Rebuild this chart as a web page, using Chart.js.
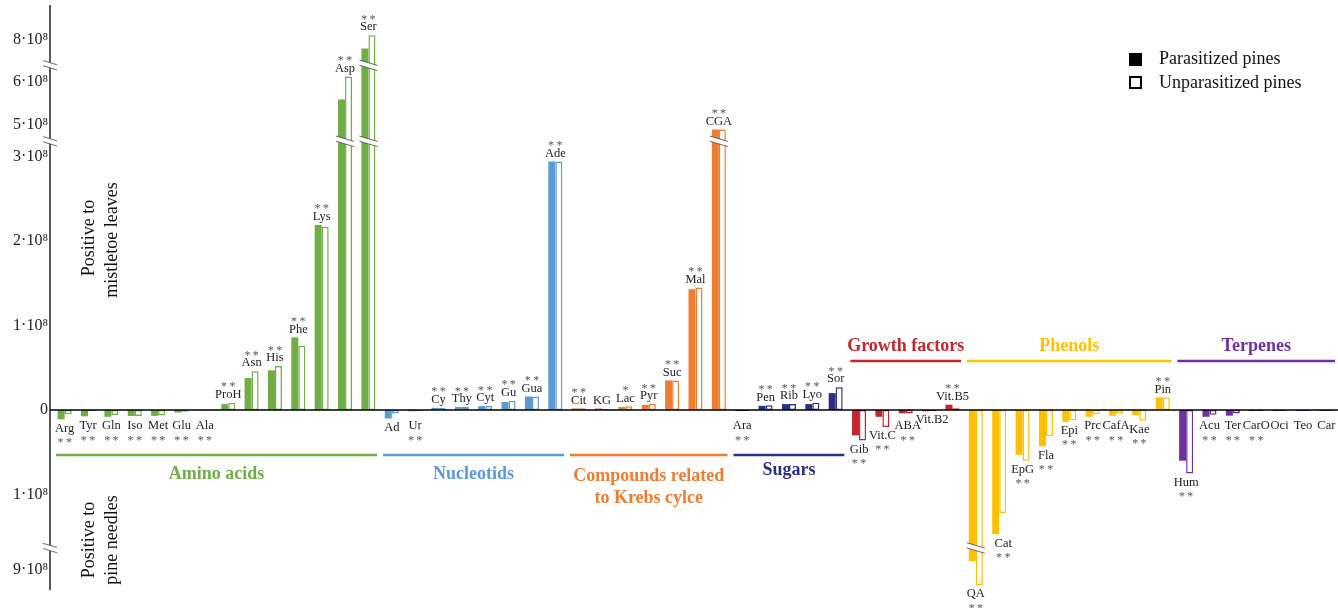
<!DOCTYPE html>
<html>
<head>
<meta charset="utf-8">
<script src="https://cdn.jsdelivr.net/npm/chart.js@4.4.1/dist/chart.umd.min.js"></script>
<style>
  html, body { margin: 0; padding: 0; background: #fff; }
  #wrap { width: 1338px; height: 608px; position: relative; }
</style>
</head>
<body>
<div id="wrap"><canvas id="chart" width="1338" height="608"></canvas></div>
<script>
// --- DATA (units of 10^8; negative = positive to pine needles) ---
const categories = [
  "Arg", "Tyr", "Gln", "Iso", "Met", "Glu", "Ala", "ProH", "Asn", "His", "Phe", "Lys", "Asp", "Ser",
  "Ad", "Ur", "Cy", "Thy", "Cyt", "Gu", "Gua", "Ade",
  "Cit", "KG", "Lac", "Pyr", "Suc", "Mal", "CGA",
  "Ara", "Pen", "Rib", "Lyo", "Sor",
  "Gib", "Vit.C", "ABA", "Vit.B2", "Vit.B5",
  "QA", "Cat", "EpG", "Fla", "Epi", "Prc", "CafA", "Kae", "Pin",
  "Hum", "Acu", "Ter", "CarO", "Oci", "Teo", "Car"
];
const parasitized = [
  -0.11, -0.075, -0.08, -0.07, -0.07, -0.03, -0.006, 0.07, 0.38, 0.47, 0.86, 2.19, 5.6, 7.8,
  -0.1, -0.015, 0.025, 0.035, 0.047, 0.095, 0.16, 2.94,
  0.02, 0.02, 0.035, 0.06, 0.35, 1.43, 4.9,
  -0.012, 0.05, 0.07, 0.07, 0.2,
  -0.3, -0.08, -0.04, -0.015, 0.063,
  -8.8, -1.47, -0.53, -0.43, -0.14, -0.08, -0.067, -0.06, 0.15,
  -0.6, -0.08, -0.067, -0.012, -0.012, -0.012, -0.012
];
const unparasitized = [
  -0.05, -0.015, -0.06, -0.07, -0.065, -0.02, -0.006, 0.086, 0.46, 0.52, 0.76, 2.17, 6.13, 8.11,
  -0.04, -0.015, 0.025, 0.035, 0.047, 0.11, 0.16, 2.94,
  0.02, 0.012, 0.045, 0.07, 0.35, 1.45, 4.9,
  -0.012, 0.055, 0.07, 0.086, 0.27,
  -0.36, -0.2, -0.04, -0.015, 0.02,
  -9.35, -1.22, -0.6, -0.31, -0.12, -0.05, -0.04, -0.127, 0.15,
  -0.75, -0.055, -0.04, -0.012, -0.012, -0.012, -0.012
];
const stars = [
  "**", "**", "**", "**", "**", "**", "**", "**", "**", "**", "**", "**", "**", "**",
  "", "**", "**", "**", "**", "**", "**", "**",
  "**", "", "*", "**", "**", "**", "**",
  "**", "**", "**", "**", "**",
  "**", "**", "**", "", "**",
  "**", "**", "**", "**", "**", "**", "**", "**", "**",
  "**", "**", "**", "**", "", "", ""
];
const groupNames = ["Amino acids", "Nucleotids", ["Compounds related", "to Krebs cylce"], "Sugars",
  "Growth factors", "Phenols", "Terpenes"];
const groupSizes = [14, 8, 7, 5, 5, 9, 7];
const groupColors = ["#70ad47", "#5b9bd5", "#ed7d31", "#2b2f85", "#c1272d", "#ffc000", "#7030a0"];
const yTickValues = [8, 6, 5, 3, 2, 1, 0, -1, -9];

// --- BROKEN AXIS ---
// maps a value (10^8) to the drawn axis position; segments meet at the break marks
const BREAK_LOW = 3.18, BREAK_HIGH = 4.08, BREAK_NEG = -1.633;
function toAxis(v) {
  if (v > 7.3) return 4.38 + (v - 8) * 0.51;
  if (v > 4.4) return 3.37 + (v - 5) * 0.51;
  if (v < -1.7) return -1.893 + (v + 9) * 0.51;
  return v;
}

// per-category colours from the group sizes
const barColors = [];
groupSizes.forEach((n, g) => { for (let k = 0; k < n; k++) barColors.push(groupColors[g]); });

// small nudges for crowded labels
const labelTweaks = { "Vit.B2": { dx: 3, dy: -6 }, "ABA": { dx: 2, dy: 0 }, "Cat": { dx: 4, dy: 0 } };

const SERIF = "'Liberation Serif', 'Times New Roman', serif";

function drawBreak(ctx, x1, x2, y) {
  const dy = (x2 - x1) * 0.3;
  const gap = 2.6;
  ctx.save();
  ctx.fillStyle = "#fff";
  ctx.beginPath();
  ctx.moveTo(x1, y - dy / 2 - gap);
  ctx.lineTo(x2, y + dy / 2 - gap);
  ctx.lineTo(x2, y + dy / 2 + gap);
  ctx.lineTo(x1, y - dy / 2 + gap);
  ctx.closePath();
  ctx.fill();
  ctx.strokeStyle = "#444";
  ctx.lineWidth = 0.8;
  ctx.beginPath();
  ctx.moveTo(x1, y - dy / 2 - gap); ctx.lineTo(x2, y + dy / 2 - gap);
  ctx.moveTo(x1, y - dy / 2 + gap); ctx.lineTo(x2, y + dy / 2 + gap);
  ctx.stroke();
  ctx.restore();
}

const decor = {
  id: "decor",
  afterDatasetsDraw(chart) {
    const ctx = chart.ctx;
    const area = chart.chartArea;
    const xs = chart.scales.x, ys = chart.scales.y;
    const m0 = chart.getDatasetMeta(0), m1 = chart.getDatasetMeta(1);
    const y0 = ys.getPixelForValue(0);
    const axisX = area.left - 3;
    const step = xs.width / categories.length;

    // breaks on the tall bars
    categories.forEach((c, i) => {
      const p = m0.data[i], u = m1.data[i];
      const x1 = p.x - p.width / 2 - 2, x2 = u.x + u.width / 2 + 2;
      const top = Math.min(p.y, u.y), bot = Math.max(p.y, u.y);
      [BREAK_LOW, BREAK_HIGH].forEach(b => {
        const yb = ys.getPixelForValue(b);
        if (top < yb - 3) drawBreak(ctx, x1, x2, yb);
      });
      const yn = ys.getPixelForValue(BREAK_NEG);
      if (bot > yn + 3) drawBreak(ctx, x1, x2, yn);
    });

    // axes
    ctx.save();
    ctx.strokeStyle = "#000";
    ctx.lineWidth = 1.3;
    ctx.beginPath();
    ctx.moveTo(axisX, 5); ctx.lineTo(axisX, area.bottom);
    ctx.moveTo(axisX, y0); ctx.lineTo(area.right, y0);
    ctx.stroke();
    ctx.restore();
    [BREAK_LOW, BREAK_HIGH, BREAK_NEG].forEach(b => drawBreak(ctx, axisX - 7, axisX + 7, ys.getPixelForValue(b)));

    // category labels and significance stars
    ctx.save();
    ctx.textAlign = "center";
    categories.forEach((c, i) => {
      const p = m0.data[i], u = m1.data[i];
      const t = labelTweaks[c] || { dx: 0, dy: 0 };
      const x = (p.x + u.x) / 2 + t.dx;
      let ly, sy;
      if (parasitized[i] + unparasitized[i] > 0) {
        const top = Math.min(p.y, u.y);
        ly = top - 8; sy = top - 19;
      } else {
        const bot = Math.max(p.y, u.y);
        ly = Math.max(bot + 9, y0 + 16); sy = ly + 11;
      }
      ly += t.dy; sy += t.dy;
      ctx.fillStyle = "#222";
      ctx.font = "12.5px " + SERIF;
      ctx.textBaseline = "middle";
      ctx.fillText(c, x, ly);
      if (stars[i]) {
        ctx.fillStyle = "#555";
        ctx.font = "12px " + SERIF;
        ctx.textBaseline = "alphabetic";
        ctx.fillText(stars[i].split("").join("\u2009"), x, sy + 6.5);
      }
    });
    ctx.restore();

    // group brackets
    ctx.save();
    ctx.textAlign = "center";
    ctx.textBaseline = "middle";
    ctx.font = "bold 18px " + SERIF;
    let start = 0;
    groupSizes.forEach((n, g) => {
      const left = xs.getPixelForValue(start) - step / 2 + 3;
      const right = xs.getPixelForValue(start + n - 1) + step / 2 - 3;
      const above = g >= 4;
      const lineY = above ? y0 - 49 : y0 + 45;
      ctx.strokeStyle = groupColors[g];
      ctx.lineWidth = 2.5;
      ctx.beginPath(); ctx.moveTo(left, lineY); ctx.lineTo(right, lineY); ctx.stroke();
      ctx.fillStyle = groupColors[g];
      const cx = (left + right) / 2;
      const name = groupNames[g];
      if (Array.isArray(name)) {
        ctx.fillText(name[0], cx, lineY + 21);
        ctx.fillText(name[1], cx, lineY + 43);
      } else if (above) {
        ctx.fillText(name, cx, lineY - 15);
      } else {
        ctx.fillText(name, cx, lineY + (g === 3 ? 15 : 19));
      }
      start += n;
    });
    ctx.restore();

    // side captions
    ctx.save();
    ctx.fillStyle = "#111";
    ctx.font = "18px " + SERIF;
    ctx.textAlign = "center";
    ctx.textBaseline = "middle";
    [["Positive to", 89, 238], ["mistletoe leaves", 112, 240], ["Positive to", 89, 540], ["pine needles", 112, 540]]
      .forEach(([s, x, y]) => {
        ctx.save();
        ctx.translate(x, y);
        ctx.rotate(-Math.PI / 2);
        ctx.fillText(s, 0, 0);
        ctx.restore();
      });
    ctx.restore();

    // legend
    ctx.save();
    ctx.fillStyle = "#000";
    ctx.fillRect(1129, 53, 13, 13);
    ctx.strokeStyle = "#000";
    ctx.lineWidth = 2;
    ctx.strokeRect(1130, 77, 11, 11);
    ctx.font = "18px " + SERIF;
    ctx.textBaseline = "middle";
    ctx.textAlign = "left";
    ctx.fillStyle = "#111";
    ctx.fillText("Parasitized pines", 1159, 59);
    ctx.fillText("Unparasitized pines", 1159, 83);
    ctx.restore();
  }
};

new Chart(document.getElementById("chart"), {
  type: "bar",
  data: {
    labels: categories,
    datasets: [
      {
        label: "Parasitized pines",
        data: parasitized.map(toAxis),
        backgroundColor: barColors,
        borderWidth: 0,
        categoryPercentage: 0.6,
        barPercentage: 1
      },
      {
        label: "Unparasitized pines",
        data: unparasitized.map(toAxis),
        backgroundColor: "#ffffff",
        borderColor: barColors,
        borderWidth: 1.5,
        borderSkipped: false,
        categoryPercentage: 0.6,
        barPercentage: 1
      }
    ]
  },
  options: {
    responsive: false,
    animation: false,
    layout: { padding: { top: 15, bottom: 18, left: 0, right: 0 } },
    scales: {
      x: { display: false, offset: true },
      y: {
        min: -2.13,
        max: 4.675,
        afterFit(s) { s.width = 53; },
        afterBuildTicks(s) { s.ticks = yTickValues.map(v => ({ value: toAxis(v) })); },
        grid: { display: false, drawTicks: false },
        border: { display: false },
        ticks: {
          autoSkip: false,
          padding: 5,
          color: "#222",
          font: { family: SERIF, size: 16 },
          callback: (val, idx) => {
            const v = Math.abs(yTickValues[idx]);
            return v === 0 ? "0" : v + "\u00b710\u2078";
          }
        }
      }
    },
    plugins: { legend: { display: false }, tooltip: { enabled: false } }
  },
  plugins: [decor]
});
</script>
</body>
</html>
